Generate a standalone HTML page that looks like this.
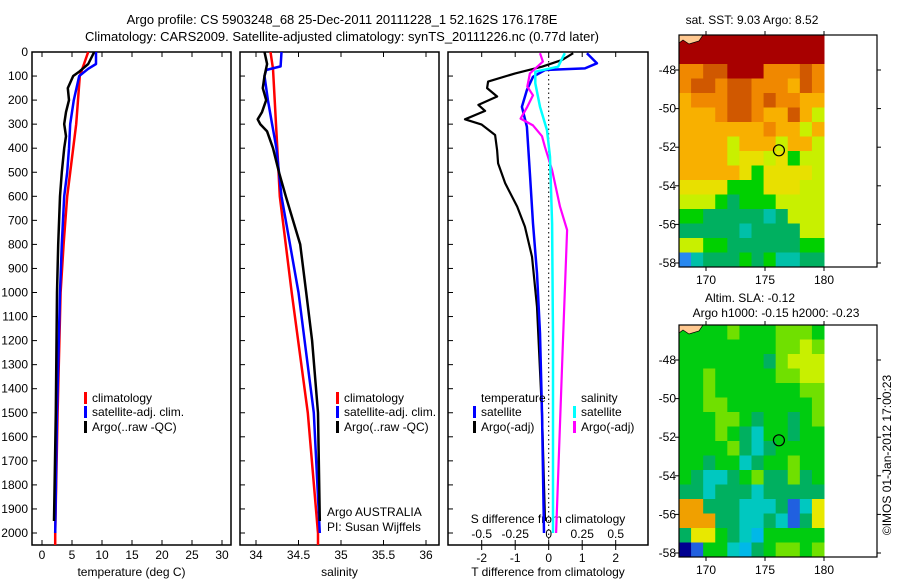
<!DOCTYPE html>
<html><head><meta charset="utf-8"><style>
html,body{margin:0;padding:0;background:#fff;}
svg{display:block;font-family:"Liberation Sans",sans-serif;font-size:12px;}
</style></head><body>
<svg id="fig" width="900" height="580" viewBox="0 0 900 580" xmlns="http://www.w3.org/2000/svg">
<text x="342" y="24" text-anchor="middle" font-size="13">Argo profile: CS 5903248_68 25-Dec-2011 20111228_1 52.162S 176.178E</text>
<text x="342" y="41" text-anchor="middle" font-size="13">Climatology: CARS2009. Satellite-adjusted climatology: synTS_20111226.nc (0.77d later)</text>
<g id="g"></g>
</svg>
<script>
// ---- profile data ----
const redTd=[0,100,200,300,400,500,600,800,1000,1200,1500,2000,2050];
const redT=[7.7,6.3,6.0,5.7,5.2,4.7,4.2,3.6,3.1,2.9,2.6,2.2,2.2];
const blueTd=[0,50,70,100,200,300,400,500,600,800,1000,1500,2000];
const blueT=[9.0,9.0,7.7,6.2,5.3,4.7,4.5,4.2,3.7,3.3,3.0,2.5,2.2];
const blackTd=[0,50,80,100,150,200,250,300,350,400,500,600,800,1000,1500,1950];
const blackT=[8.7,7.7,6.3,5.2,4.3,4.5,4.0,3.7,4.0,3.7,3.3,3.0,2.7,2.5,2.3,2.0];
const redSd=[0,70,200,400,600,1000,1500,2000,2050];
const redS=[34.17,34.2,34.22,34.25,34.28,34.42,34.61,34.73,34.73];
const blueSd=[0,60,75,100,200,300,400,600,800,1000,1500,2000];
const blueS=[34.3,34.29,34.12,34.1,34.14,34.19,34.24,34.3,34.4,34.5,34.68,34.75];
const blackSd=[0,50,100,150,200,250,280,300,330,400,500,600,800,1000,1200,1500,1950];
const blackS=[34.1,34.13,34.1,34.08,34.12,34.07,34.02,34.05,34.13,34.2,34.27,34.35,34.52,34.59,34.66,34.73,34.75];
const dTargoD=[5,33,61,89,123,150,185,220,245,280,302,345,408,463,546,643,726,851,1060,1500,1950];
const dTargo=[0.73,0.4,-0.2,-1.0,-1.81,-1.84,-1.54,-2.1,-1.9,-2.5,-2.0,-1.6,-1.54,-1.51,-1.3,-0.94,-0.71,-0.5,-0.35,-0.2,-0.11];
const dTsatD=[5,47,68,75,103,158,228,311,505,713,920,1170,1500,2000];
const dTsat=[1.14,1.44,1.08,-0.11,-0.47,-0.65,-0.8,-0.65,-0.56,-0.47,-0.35,-0.26,-0.2,-0.14];
const dSsatD=[5,61,82,130,228,325,436,713,1200,2000];
const dSsat=[0.12,0.07,-0.1,-0.1,-0.065,-0.013,0.01,0.025,0.032,0.032];
const dSargoD=[5,40,89,144,180,228,277,305,350,394,491,643,740,1198,2000];
const dSargo=[-0.065,-0.043,-0.14,-0.16,-0.117,-0.16,-0.21,-0.117,-0.05,-0.028,0.025,0.084,0.137,0.107,0.055];
const depthTicks=[0,100,200,300,400,500,600,700,800,900,1000,1100,1200,1300,1400,1500,1600,1700,1800,1900,2000];
const tTicks=[0,5,10,15,20,25,30];
const sTicks=[34,34.5,35,35.5,36];
const dTTicks=[-2,-1,0,1,2];
const dSTicks=[-0.5,-0.25,0,0.25,0.5];
// ---- map data (colour codes) ----
const sstRows=["RRRRRRRRRRRR","RRRRRRRRRRRR","ooOORRRoooOo","oOOoOOoooyOo","yoooOOoOooyy","yyyoOOoyyOyL","yyyyyyyoyyLy","yyyyLyyyLyyL","yyyyLYYLYGLL","yyyyyYGYYYYL","YYYYGGGYYYLL","LLLGgGGGLLLL","GGgggggcgLLL","gggggcggggLL","LLGGggggggGG","bcgggGgGccgg"];
const slaRows=["GGGGLGGGLLLG","GGGGGGGGLLYL","GGGGGGGgLYYY","GGLGGGGGLLYY","GGLGGGGGGGLL","GGLLGGGGGGGL","GGGLLGgGGgGL","GGGLGgcGGgGG","GGGGLgcgGGGG","GGgGGcgGGLGG","GgccgGLggLgG","ggcgggcggggg","oogggcccgBcy","oooggccgcBgy","gyyGgcCGGGGG","NBGGcCgGLLGL"];
const lonTicks=[170,175,180];
const latTicks=[-48,-50,-52,-54,-56,-58];
const argoLon=176.18, argoLat=-52.16;

const NS="http://www.w3.org/2000/svg";
const G=document.getElementById('g');
function mk(t,a,p){const e=document.createElementNS(NS,t);for(const k in a)e.setAttribute(k,a[k]);(p||G).appendChild(e);return e;}
const yD=d=>52+d*0.2405;
function line(x1,y1,x2,y2,c,w){return mk('line',{x1:x1,y1:y1,x2:x2,y2:y2,stroke:c||'#000','stroke-width':w||1});}
function txt(x,y,s,anchor,size){const e=mk('text',{x:x,y:y,'text-anchor':anchor||'start','font-size':size||12});e.textContent=s;return e;}

function panel(x0,x1,xf,ticks,tickFmt,xlabel,name,showDepthLabels){
  const fr=mk('rect',{x:x0,y:52,width:x1-x0,height:493,fill:'none',stroke:'#000','stroke-width':1.5});
  
  
  depthTicks.forEach(d=>{const y=yD(d);line(x0,y,x0+5,y);
    if(showDepthLabels){const t=txt(28,y+4,String(d),'end');
      
      }});
  ticks.forEach(v=>{const x=xf(v);line(x,52,x,57);line(x,545,x,540);
    if(tickFmt){const t=txt(x,559,tickFmt(v),'middle');
      
      }});
  if(xlabel){const t=txt((x0+x1)/2,576,xlabel,'middle');
    
    }
}
function series(ds,vs,xf,c,w,name){
  const pts=ds.map((d,i)=>xf(vs[i]).toFixed(1)+','+yD(d).toFixed(1)).join(' ');
  const p=mk('polyline',{points:pts,fill:'none',stroke:c,'stroke-width':w||2.5,'stroke-linejoin':'round'});
  
  
}
const xT=v=>42+6*v, xS=v=>256+85*(v-34), xdT=v=>548.7+33.5*v, xdS=v=>548.7+134*v;

panel(32,231,xT,tTicks,v=>String(v),'temperature (deg C)','temperature-panel',true);
series(redTd,redT,xT,'#f00',2.5,'temp-climatology-line');
series(blueTd,blueT,xT,'#00f',2.5,'temp-satellite-line');
series(blackTd,blackT,xT,'#000',2.5,'temp-argo-line');

panel(240,439,xS,sTicks,v=>String(v),'salinity','salinity-panel',false);
series(redSd,redS,xS,'#f00',2.5,'sal-climatology-line');
series(blueSd,blueS,xS,'#00f',2.5,'sal-satellite-line');
series(blackSd,blackS,xS,'#000',2.5,'sal-argo-line');

panel(448,648,xdT,dTTicks,null,'T difference from climatology','difference-panel',false);
line(548.7,52,548.7,545,'#000',1).setAttribute('stroke-dasharray','1.5,3');
dTTicks.forEach(v=>{const x=xdT(v);line(x,545,x,550);const t=txt(x,562,String(v),'middle');
  
  });
dSTicks.forEach(v=>{const x=xdS(v);const t=txt(x,538,v===0?'0':String(v),'middle');
  
  });
txt(548,523,'S difference from climatology','middle');
series(dTargoD,dTargo,xdT,'#000',2.2,'dT-argo-line');
series(dTsatD,dTsat,xdT,'#00f',2.5,'dT-satellite-line');
series(dSargoD,dSargo,xdS,'#f0f',2.2,'dS-argo-line');
series(dSsatD,dSsat,xdS,'#0ff',2.5,'dS-satellite-line');

function legendEntry(x,y,c,label,name){
  const g=mk('g',{});
  
  
  if(c) mk('rect',{x:x,y:y-10,width:3,height:12,fill:c},g);
  const t=mk('text',{x:x+8,y:y},g);t.textContent=label;
}
legendEntry(84,402,'#f00','climatology','legend-climatology');
legendEntry(84,416,'#00f','satellite-adj. clim.','legend-satellite');
legendEntry(84,431,'#000','Argo(..raw -QC)','legend-argo');
legendEntry(336,402,'#f00','climatology','legend-climatology-2');
legendEntry(336,416,'#00f','satellite-adj. clim.','legend-satellite-2');
legendEntry(336,431,'#000','Argo(..raw -QC)','legend-argo-2');
legendEntry(473,402,null,'temperature','legend-temperature-head');
legendEntry(473,416,'#00f','satellite','legend-t-satellite');
legendEntry(473,431,'#000','Argo(-adj)','legend-t-argo');
legendEntry(573,402,null,'salinity','legend-salinity-head');
legendEntry(573,416,'#0ff','satellite','legend-s-satellite');
legendEntry(573,431,'#f0f','Argo(-adj)','legend-s-argo');
txt(327,516,'Argo AUSTRALIA');
txt(327,531,'PI: Susan Wijffels');

// ---- maps ----
const sstPal={R:'#a80000',O:'#d05800',o:'#f08800',y:'#f8b000',Y:'#e8e000',L:'#c8f000',G:'#00d000',g:'#00b060',c:'#00c0a8',b:'#2888f0'};
const slaPal={G:'#00cc10',g:'#00b060',L:'#70e000',Y:'#c8f000',c:'#00c8c0',C:'#00b8e8',B:'#2060e0',N:'#000090',o:'#f0a000',y:'#e8e800'};
function mapAx(top,lat48y,rows,pal,name){
  const bot=top+232, x0=679, x1=877, cx1=824;
  const lx=v=>706+11.8*(v-170), ly=v=>lat48y+19.3*(-48-v);
  const cw=(cx1-x0)/12, ch=(bot-top)/rows.length;
  rows.forEach((r,i)=>{for(let j=0;j<r.length;j++){
    const c=mk('rect',{x:(x0+j*cw).toFixed(2),y:(top+i*ch).toFixed(2),width:(cw+0.5).toFixed(2),height:(ch+0.5).toFixed(2),fill:pal[r[j]]});
    
    }});
  mk('path',{d:`M${x0} ${top} L${x0+24} ${top} L${x0+20} ${top+6} L${x0+10} ${top+9} L${x0+4} ${top+5} L${x0} ${top+8} Z`,fill:'#ffc890',stroke:'#000','stroke-width':0.7});
  const fr=mk('rect',{x:x0,y:top,width:x1-x0,height:bot-top,fill:'none',stroke:'#000','stroke-width':1.2});
  
  
  lonTicks.forEach(v=>{const x=lx(v);line(x,top-4,x,top);line(x,bot,x,bot+4);
    const t=txt(x,bot+17,String(v),'middle');
    
    });
  latTicks.forEach(v=>{const y=ly(v);line(x0-4,y,x0,y);line(x1,y,x1+4,y);
    const t=txt(x0-3,y+4,String(v),'end');
    
    });
  const m=mk('circle',{cx:lx(argoLon),cy:ly(argoLat),r:5.5,fill:'none',stroke:'#000','stroke-width':1.2});
  
  
}
mapAx(35,70,sstRows,sstPal,'sst-map');
mapAx(325,360,slaRows,slaPal,'sla-map');
txt(752,24,'sat. SST: 9.03 Argo: 8.52','middle');
txt(750,302,'Altim. SLA: -0.12','middle');
txt(776,317,'Argo h1000: -0.15 h2000: -0.23','middle');
const cr=txt(0,0,'©IMOS 01-Jan-2012 17:00:23','middle');
cr.setAttribute('transform','translate(891,455) rotate(-90)');


</script>
</body></html>
